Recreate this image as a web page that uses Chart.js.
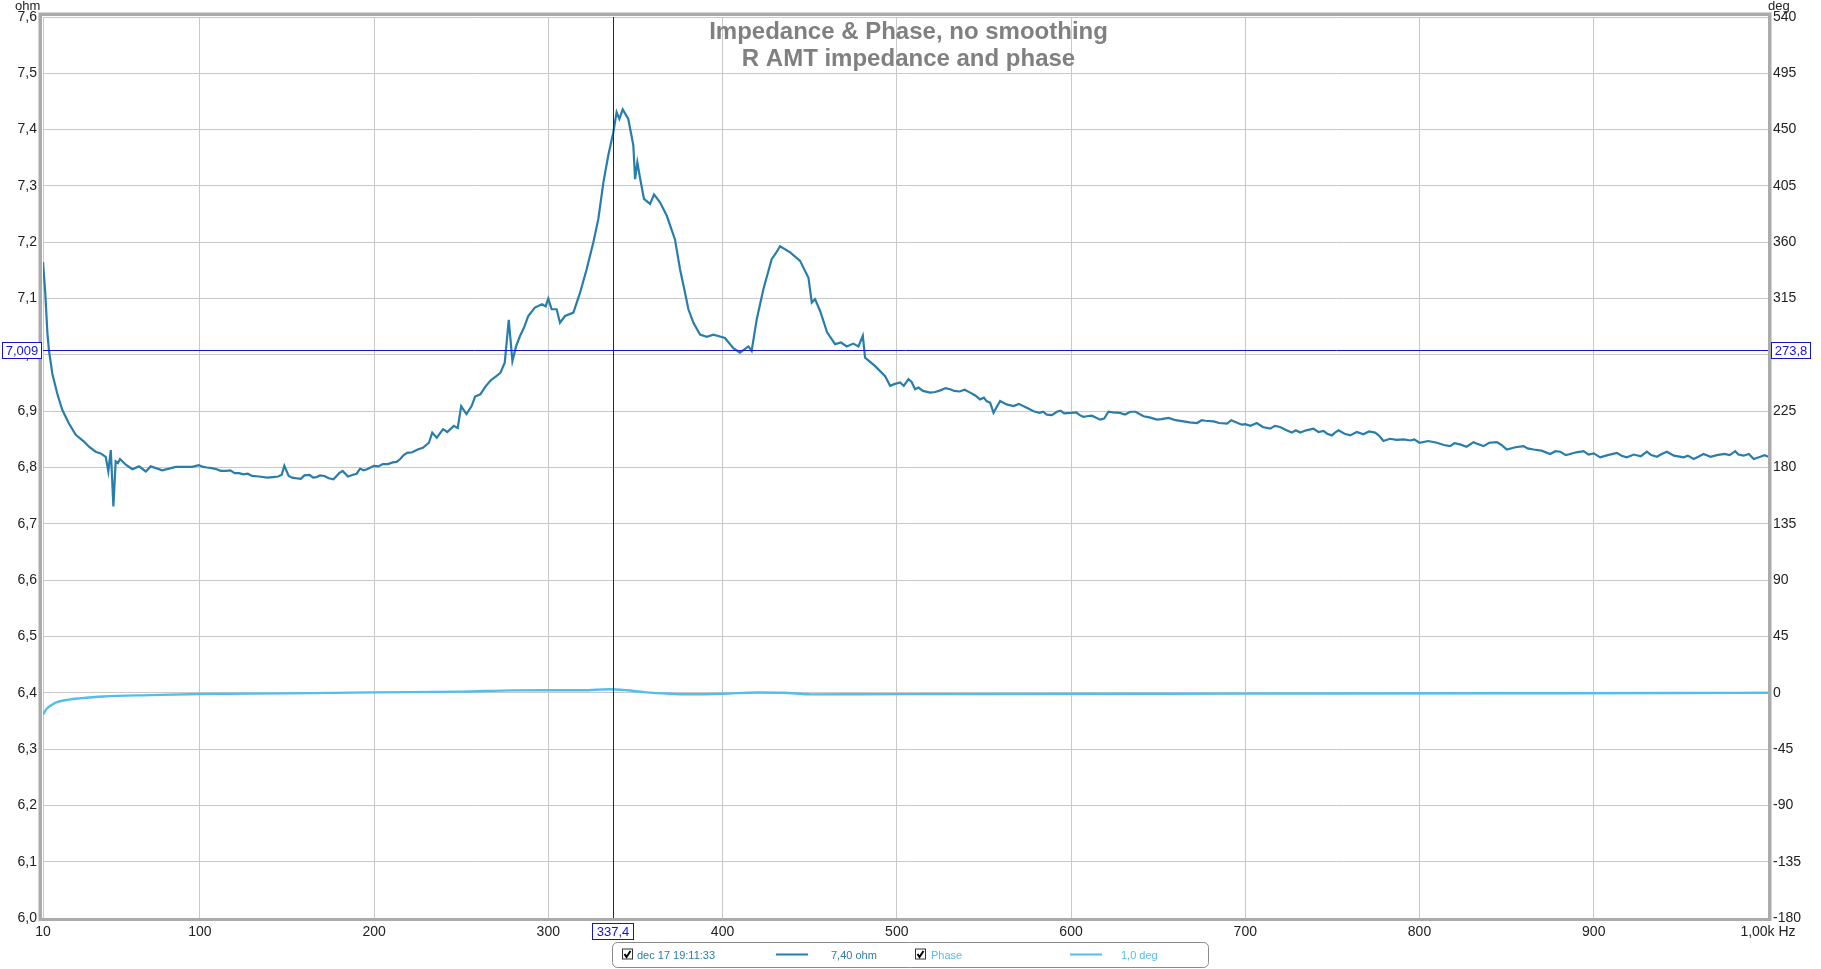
<!DOCTYPE html>
<html>
<head>
<meta charset="utf-8">
<title>R AMT impedance and phase</title>
<script src="https://cdn.jsdelivr.net/npm/chart.js@4.4.0/dist/chart.umd.min.js"></script>
<style>
	body { margin: 0; background: #fff; }
	#wrap { width: 1821px; height: 969px; position: relative; }
</style>
</head>
<body>
<div id="wrap"><canvas id="impChart" width="1821" height="969"></canvas></div>
<script>
const impHz = [
	10, 11.3, 12.5, 13.4, 15.4, 18.2, 21.1, 24.9, 28.8, 33.5,
	36.4, 40.2, 43.1, 46, 47.5, 48.9, 50.4, 51.7, 53, 54.2,
	57.5, 61.3, 65.1, 69, 71.8, 78.5, 86.2, 95.7, 99.4, 102,
	104, 107, 109.7, 112, 115, 117.5, 120, 122.5, 125, 127.5,
	130, 134, 138.6, 142, 145, 147, 148.5, 151, 153, 155,
	158, 160, 163, 165, 167, 169, 171.5, 174, 176.7, 178.5,
	180, 182, 185, 188, 190, 192, 194, 196, 198, 200,
	202.5, 205, 208, 210.7, 213, 215, 217, 219, 222, 225,
	228, 231.5, 233.4, 236, 239.6, 242, 245.8, 248, 250, 253,
	256, 258, 261, 264, 267, 270, 272.5, 275, 277.3, 279.4,
	281.5, 283.7, 286, 288.5, 292.3, 296.4, 298.5, 300, 301.9, 304.8,
	306.7, 309.6, 314.4, 318.2, 322, 325.8, 328.7, 331.6, 334.4, 337.3,
	339.2, 340.8, 342.7, 345.9, 348.8, 349.8, 351.1, 352.6, 354.9, 358.4,
	360.7, 364.1, 368, 372.7, 375.6, 378.5, 380.4, 383.3, 387.1, 391,
	394.7, 398, 401.4, 406.2, 410, 414.8, 416.7, 419.6, 423.4, 428.2,
	430.5, 433, 438.8, 444.5, 449.3, 451.2, 453.1, 456, 460, 464.6,
	468, 471.3, 475, 478, 480.5, 481.8, 487.6, 493.3, 496.2, 498.5,
	501.9, 504, 506.7, 508.5, 510.5, 512.5, 515, 519.1, 522, 525,
	528, 530.6, 533, 536, 539, 542.1, 545, 547.8, 550, 551.5,
	553.6, 555.5, 559.3, 563, 567, 570, 574.6, 578.5, 582, 584,
	586.1, 589, 591.9, 594, 596, 600, 603, 605, 607, 609.1,
	612, 616.7, 619, 621.5, 624, 628, 631, 634, 637, 641.6,
	645, 649.3, 652, 656, 660, 664.6, 668, 672.3, 675, 677,
	681.8, 685, 689.5, 692, 695, 698, 700, 703, 706.6, 710,
	714.3, 717, 720, 723, 726.7, 729, 731.5, 735, 739.1, 742,
	744.9, 747, 749.7, 751.5, 753.5, 757, 760.2, 764, 767.8, 771,
	774.5, 777, 779.3, 783, 786.9, 791, 794.6, 797, 800, 805,
	810, 814, 817.6, 820, 823.3, 827, 831, 833, 836.7, 840,
	844.4, 847, 850.1, 855, 859.7, 862, 865.5, 870, 875, 878,
	880.8, 884, 886.5, 890, 894.2, 897, 900, 903.7, 908, 913.3,
	916, 919, 923, 927, 930.5, 933, 936.3, 939, 942, 946,
	951.6, 954, 957.3, 960, 963, 967, 970.7, 975, 978, 981.2,
	983, 986, 989, 991.8, 995.6, 998, 1000
];
const impOhm = [
	7.165, 7.110, 7.040, 7.008, 6.966, 6.931, 6.902, 6.878, 6.858, 6.846,
	6.837, 6.828, 6.825, 6.819, 6.793, 6.831, 6.731, 6.811, 6.808, 6.815,
	6.805, 6.797, 6.802, 6.793, 6.802, 6.795, 6.801, 6.801, 6.804, 6.801,
	6.800, 6.799, 6.797, 6.794, 6.794, 6.795, 6.790, 6.790, 6.788, 6.789,
	6.785, 6.784, 6.782, 6.783, 6.784, 6.787, 6.803, 6.785, 6.782, 6.781,
	6.780, 6.786, 6.787, 6.782, 6.783, 6.786, 6.785, 6.781, 6.779, 6.785,
	6.790, 6.794, 6.784, 6.787, 6.789, 6.798, 6.795, 6.797, 6.800, 6.803,
	6.802, 6.806, 6.806, 6.809, 6.810, 6.815, 6.822, 6.826, 6.827, 6.832,
	6.835, 6.844, 6.862, 6.853, 6.868, 6.863, 6.874, 6.870, 6.909, 6.895,
	6.909, 6.926, 6.930, 6.944, 6.955, 6.962, 6.968, 6.986, 7.062, 6.989,
	7.015, 7.033, 7.048, 7.069, 7.084, 7.090, 7.086, 7.100, 7.081, 7.081,
	7.057, 7.069, 7.075, 7.110, 7.152, 7.199, 7.241, 7.306, 7.354, 7.395,
	7.431, 7.419, 7.436, 7.419, 7.372, 7.312, 7.342, 7.315, 7.277, 7.268,
	7.285, 7.271, 7.247, 7.205, 7.152, 7.110, 7.081, 7.057, 7.036, 7.032,
	7.036, 7.033, 7.030, 7.012, 7.004, 7.015, 7.007, 7.063, 7.116, 7.170,
	7.180, 7.193, 7.182, 7.167, 7.137, 7.093, 7.099, 7.078, 7.040, 7.019,
	7.022, 7.015, 7.020, 7.015, 7.034, 6.995, 6.980, 6.962, 6.945, 6.948,
	6.951, 6.945, 6.957, 6.952, 6.939, 6.942, 6.936, 6.933, 6.934, 6.937,
	6.941, 6.939, 6.936, 6.935, 6.938, 6.933, 6.928, 6.921, 6.924, 6.918,
	6.915, 6.897, 6.918, 6.912, 6.909, 6.913, 6.906, 6.900, 6.897, 6.899,
	6.894, 6.893, 6.899, 6.901, 6.896, 6.897, 6.898, 6.893, 6.890, 6.891,
	6.892, 6.885, 6.887, 6.899, 6.898, 6.897, 6.894, 6.899, 6.899, 6.891,
	6.889, 6.885, 6.886, 6.888, 6.884, 6.882, 6.880, 6.879, 6.884, 6.883,
	6.882, 6.879, 6.878, 6.884, 6.880, 6.876, 6.877, 6.874, 6.879, 6.872,
	6.869, 6.874, 6.872, 6.867, 6.862, 6.866, 6.862, 6.866, 6.869, 6.863,
	6.865, 6.860, 6.857, 6.862, 6.866, 6.860, 6.857, 6.863, 6.859, 6.864,
	6.862, 6.856, 6.847, 6.851, 6.849, 6.850, 6.848, 6.850, 6.844, 6.847,
	6.844, 6.840, 6.838, 6.843, 6.841, 6.837, 6.845, 6.842, 6.838, 6.844,
	6.845, 6.840, 6.832, 6.836, 6.838, 6.834, 6.832, 6.830, 6.824, 6.829,
	6.828, 6.822, 6.824, 6.827, 6.829, 6.823, 6.825, 6.818, 6.822, 6.826,
	6.821, 6.818, 6.823, 6.820, 6.828, 6.822, 6.819, 6.824, 6.828, 6.821,
	6.818, 6.821, 6.815, 6.819, 6.824, 6.819, 6.822, 6.824, 6.822, 6.829,
	6.823, 6.821, 6.824, 6.815, 6.819, 6.822, 6.819
];

// phase curve (Hz / deg)
const phaseHz = [10, 12, 14.7, 18, 24.7, 31, 44.7, 71, 100, 150, 200, 250, 280, 300, 320, 335, 345, 355, 370, 380,
	400, 420, 435, 451, 480, 550, 650, 750, 850, 950, 1000];
const phaseDeg = [-17.5, -13, -10, -7.5, -5.5, -4.5, -3, -1.9, -1, -0.5, 0.3, 0.9, 1.9, 2, 2, 2.8, 2, 0.5, -0.8, -1.2,
	-0.8, 0.2, 0, -1.3, -1.2, -1, -0.8, -0.6, -0.4, -0.2, 0];

// axis ticks
const xTicks = [10, 100, 200, 300, 400, 500, 600, 700, 800, 900, 1000];
const ohmTicks = [6.0, 6.1, 6.2, 6.3, 6.4, 6.5, 6.6, 6.7, 6.8, 6.9, 7.0, 7.1, 7.2, 7.3, 7.4, 7.5, 7.6];
const degTicks = [-180, -135, -90, -45, 0, 45, 90, 135, 180, 225, 270, 315, 360, 405, 450, 495, 540];

// cursor readout
const cursorHz = 337.4;
const cursorOhm = 7.009;
const cursorDeg = 273.8;

const titleLines = ['Impedance & Phase, no smoothing', 'R AMT impedance and phase'];
const legendItems = ['dec 17 19:11:33', '7,40 ohm', 'Phase', '1,0 deg'];

const impColor = 'rgb(40,125,170)';
const phaseColor = 'rgb(82,190,240)';
const cursorColor = '#1414c8';
const FONT = '"Liberation Sans", Arial, sans-serif';

function comma(v, d) {
	return v.toFixed(d).replace('.', ',');
}

// frame, title, axis units, cursor and legend
const decorPlugin = {
	id: 'decor',
	afterDraw(chart) {
		const c = chart.ctx;
		const a = chart.chartArea;
		const sx = chart.scales.x, sy = chart.scales.y;

		// heavy grey frame
		c.save();
		c.strokeStyle = '#d4d4d4';
		c.lineWidth = 1;
		c.strokeRect(a.left - 4.5, a.top - 4.5, a.right - a.left + 8, a.bottom - a.top + 7);
		c.strokeStyle = '#ababab';
		c.lineWidth = 3;
		c.strokeRect(a.left - 2.5, a.top - 2.5, a.right - a.left + 4, a.bottom - a.top + 4);

		// title
		c.fillStyle = '#808080';
		c.font = 'bold 24px ' + FONT;
		c.textAlign = 'center';
		c.textBaseline = 'middle';
		const cx = (a.left + a.right) / 2 + 3;
		c.fillText(titleLines[0], cx, 32);
		c.fillText(titleLines[1], cx, 59);

		// units
		c.fillStyle = '#222';
		c.font = '13px ' + FONT;
		c.textAlign = 'left';
		c.fillText('ohm', 15, 6);
		c.fillText('deg', 1768, 6);

		// cursor lines
		const px = sx.getPixelForValue(cursorHz);
		const py = sy.getPixelForValue(cursorOhm);
		c.strokeStyle = cursorColor;
		c.lineWidth = 1;
		c.beginPath();
		c.moveTo(Math.round(px) + 0.5, a.top);
		c.lineTo(Math.round(px) + 0.5, a.bottom);
		c.moveTo(a.left, Math.round(py) + 0.5);
		c.lineTo(a.right, Math.round(py) + 0.5);
		c.stroke();

		// cursor boxes
		c.font = '13px ' + FONT;
		c.textAlign = 'center';
		function box(txt, x, y, w, h) {
			c.fillStyle = '#fff';
			c.fillRect(x, y, w, h);
			c.strokeStyle = cursorColor;
			c.strokeRect(x + 0.5, y + 0.5, w - 1, h - 1);
			c.fillStyle = cursorColor;
			c.fillText(txt, x + w / 2, y + h / 2 + 1);
		}
		box(comma(cursorOhm, 3), 2, Math.round(py) - 8, 40, 17);
		box(comma(cursorDeg, 1), 1771, Math.round(py) - 8, 40, 17);
		box(comma(cursorHz, 1), Math.round(px) - 21, 923, 42, 17);

		// legend
		const lx = 612, ly = 942, lw = 596, lh = 25;
		c.fillStyle = '#fff';
		c.strokeStyle = '#8a8a8a';
		c.beginPath();
		c.roundRect(lx + 0.5, ly + 0.5, lw, lh, 5);
		c.fill();
		c.stroke();
		const my = ly + lh / 2;
		function check(x) {
			c.fillStyle = '#fff';
			c.fillRect(x, my - 6, 11, 11);
			c.strokeStyle = '#333';
			c.lineWidth = 1;
			c.strokeRect(x + 0.5, my - 5.5, 10, 10);
			c.strokeStyle = '#000';
			c.lineWidth = 2;
			c.beginPath();
			c.moveTo(x + 2.5, my - 0.5);
			c.lineTo(x + 4.5, my + 2.5);
			c.lineTo(x + 8.5, my - 3.5);
			c.stroke();
			c.lineWidth = 1;
		}
		c.font = '11px ' + FONT;
		c.textAlign = 'left';
		check(622);
		c.fillStyle = impColor;
		c.fillText(legendItems[0], 637, my + 1);
		c.strokeStyle = impColor;
		c.lineWidth = 2;
		c.beginPath();
		c.moveTo(776, my);
		c.lineTo(808, my);
		c.stroke();
		c.fillText(legendItems[1], 831, my + 1);
		check(915);
		c.fillStyle = phaseColor;
		c.fillText(legendItems[2], 931, my + 1);
		c.strokeStyle = phaseColor;
		c.lineWidth = 2;
		c.beginPath();
		c.moveTo(1070, my);
		c.lineTo(1102, my);
		c.stroke();
		c.fillText(legendItems[3], 1121, my + 1);
		c.restore();
	}
};

const impChart = new Chart(document.getElementById('impChart'), {
	type: 'line',
	data: {
		datasets: [
			{
				label: legendItems[0],
				data: impHz.map((f, i) => ({ x: f, y: impOhm[i] })),
				yAxisID: 'y',
				borderColor: impColor,
				borderWidth: 2.2,
				pointRadius: 0,
				tension: 0
			},
			{
				label: legendItems[2],
				data: phaseHz.map((f, i) => ({ x: f, y: phaseDeg[i] })),
				yAxisID: 'y1',
				borderColor: phaseColor,
				borderWidth: 2.4,
				pointRadius: 0,
				cubicInterpolationMode: 'monotone'
			}
		]
	},
	options: {
		responsive: false,
		animation: false,
		devicePixelRatio: 1,
		layout: { padding: { top: 17, left: 0, right: 0, bottom: 0 } },
		plugins: {
			legend: { display: false },
			tooltip: { enabled: false }
		},
		scales: {
			x: {
				type: 'linear',
				min: 10,
				max: 1000,
				afterBuildTicks: s => { s.ticks = xTicks.map(v => ({ value: v })); },
				afterFit: s => { s.height = 51; },
				grid: { color: '#c8c8c8', drawTicks: false },
				border: { display: false },
				ticks: {
					padding: 6,
					autoSkip: false,
					maxRotation: 0,
					color: '#222',
					font: { family: FONT, size: 14 },
					callback: v => v === 1000 ? '1,00k Hz' : String(v)
				}
			},
			y: {
				position: 'left',
				min: 6.0,
				max: 7.6,
				afterBuildTicks: s => { s.ticks = ohmTicks.map(v => ({ value: v })); },
				afterFit: s => { s.width = 43; },
				grid: { color: '#c8c8c8', drawTicks: false },
				border: { display: false },
				ticks: {
					padding: 6,
					color: '#222',
					font: { family: FONT, size: 14 },
					callback: v => comma(v, 1)
				}
			},
			y1: {
				position: 'right',
				min: -180,
				max: 540,
				afterBuildTicks: s => { s.ticks = degTicks.map(v => ({ value: v })); },
				afterFit: s => { s.width = 53; },
				grid: { display: false, drawTicks: false },
				border: { display: false },
				ticks: {
					padding: 5,
					color: '#222',
					font: { family: FONT, size: 14 },
					callback: v => String(v)
				}
			}
		}
	},
	plugins: [decorPlugin]
});
</script>
</body>
</html>
